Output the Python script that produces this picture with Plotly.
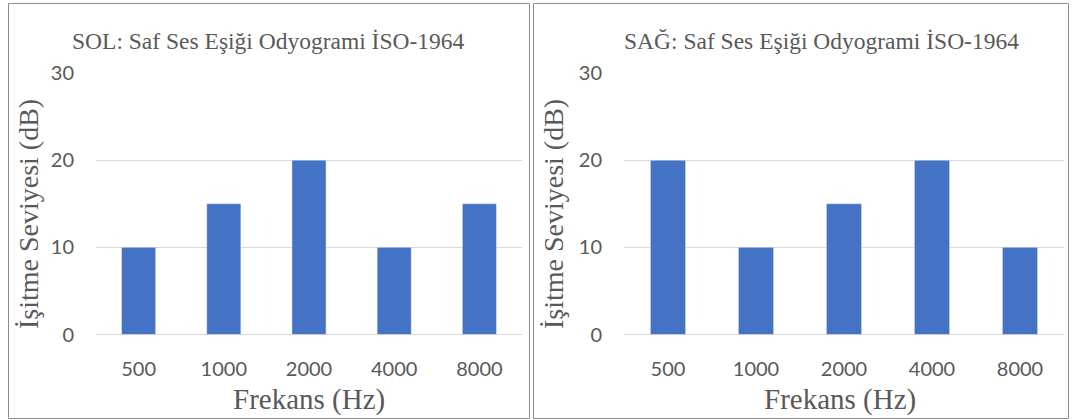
import plotly.graph_objects as go

categories = ["500", "1000", "2000", "4000", "8000"]
left_values = [10, 15, 20, 10, 15]
right_values = [20, 10, 15, 20, 10]
y_ticks = [0, 10, 20, 30]
left_title = "SOL: Saf Ses Eşiği Odyogrami İSO-1964"
right_title = "SAĞ: Saf Ses Eşiği Odyogrami İSO-1964"
x_title = "Frekans (Hz)"
y_title = "İşitme Seviyesi (dB)"

W, H = 1074, 420
BAR = "#4472C4"
GRID = "#D9D9D9"
TXT = "#595959"
SERIF = "Liberation Serif, Times New Roman, serif"
SANS = "Lato, Carlito, Calibri, sans-serif"

def px(x):
    return x / W

def py(y):
    return 1 - y / H

fig = go.Figure()
fig.add_trace(go.Bar(x=categories, y=left_values, marker_color=BAR, xaxis="x", yaxis="y",
                     showlegend=False, hoverinfo="skip"))
fig.add_trace(go.Bar(x=categories, y=right_values, marker_color=BAR, xaxis="x2", yaxis="y2",
                     showlegend=False, hoverinfo="skip"))

ydom = [py(334.5), py(73)]
xaxis_common = dict(showgrid=False, showline=False, zeroline=False, ticks="outside", ticklen=16,
                    tickcolor="rgba(0,0,0,0)", tickfont=dict(family=SANS, size=20, color=TXT),
                    type="category", fixedrange=True, automargin=False)
yaxis_common = dict(range=[0, 30], tickvals=y_ticks, showgrid=True, gridcolor=GRID, gridwidth=1,
                    zeroline=True, zerolinecolor=GRID, zerolinewidth=1, showline=False,
                    ticks="outside", ticklen=17, tickcolor="rgba(0,0,0,0)",
                    tickfont=dict(family=SANS, size=20, color=TXT), fixedrange=True,
                    automargin=False)

fig.update_layout(
    width=W, height=H, autosize=False, margin=dict(l=0, r=0, t=0, b=0, pad=0, autoexpand=False),
    paper_bgcolor="white", plot_bgcolor="white", bargap=0.6,
    xaxis=dict(domain=[px(96), px(522)], anchor="y", **xaxis_common),
    yaxis=dict(domain=ydom, anchor="x", **yaxis_common),
    xaxis2=dict(domain=[px(624), px(1064)], anchor="y2", **xaxis_common),
    yaxis2=dict(domain=ydom, anchor="x2", **yaxis_common),
)

# panel borders
for x0, x1 in [(8.5, 529.5), (533.5, 1068.5)]:
    fig.add_shape(type="rect", xref="paper", yref="paper", x0=px(x0), x1=px(x1),
                  y0=py(418.5), y1=py(3.5), line=dict(color="#8C8C8C", width=1),
                  fillcolor="rgba(0,0,0,0)", layer="below")

annots = [
    dict(text=left_title, x=px(268), y=py(41), size=23.5, angle=0),
    dict(text=right_title, x=px(821), y=py(41), size=23.5, angle=0),
    dict(text=x_title, x=px(309), y=py(399), size=29, angle=0),
    dict(text=x_title, x=px(840), y=py(399), size=29, angle=0),
    dict(text=y_title, x=px(28), y=py(214), size=28, angle=-90),
    dict(text=y_title, x=px(553), y=py(214), size=28, angle=-90),
]
for a in annots:
    fig.add_annotation(text=a["text"], x=a["x"], y=a["y"], xref="paper", yref="paper",
                       showarrow=False, textangle=a["angle"], xanchor="center", yanchor="middle",
                       font=dict(family=SERIF, size=a["size"], color=TXT))

fig.write_html("out.html", config={"responsive": False})
